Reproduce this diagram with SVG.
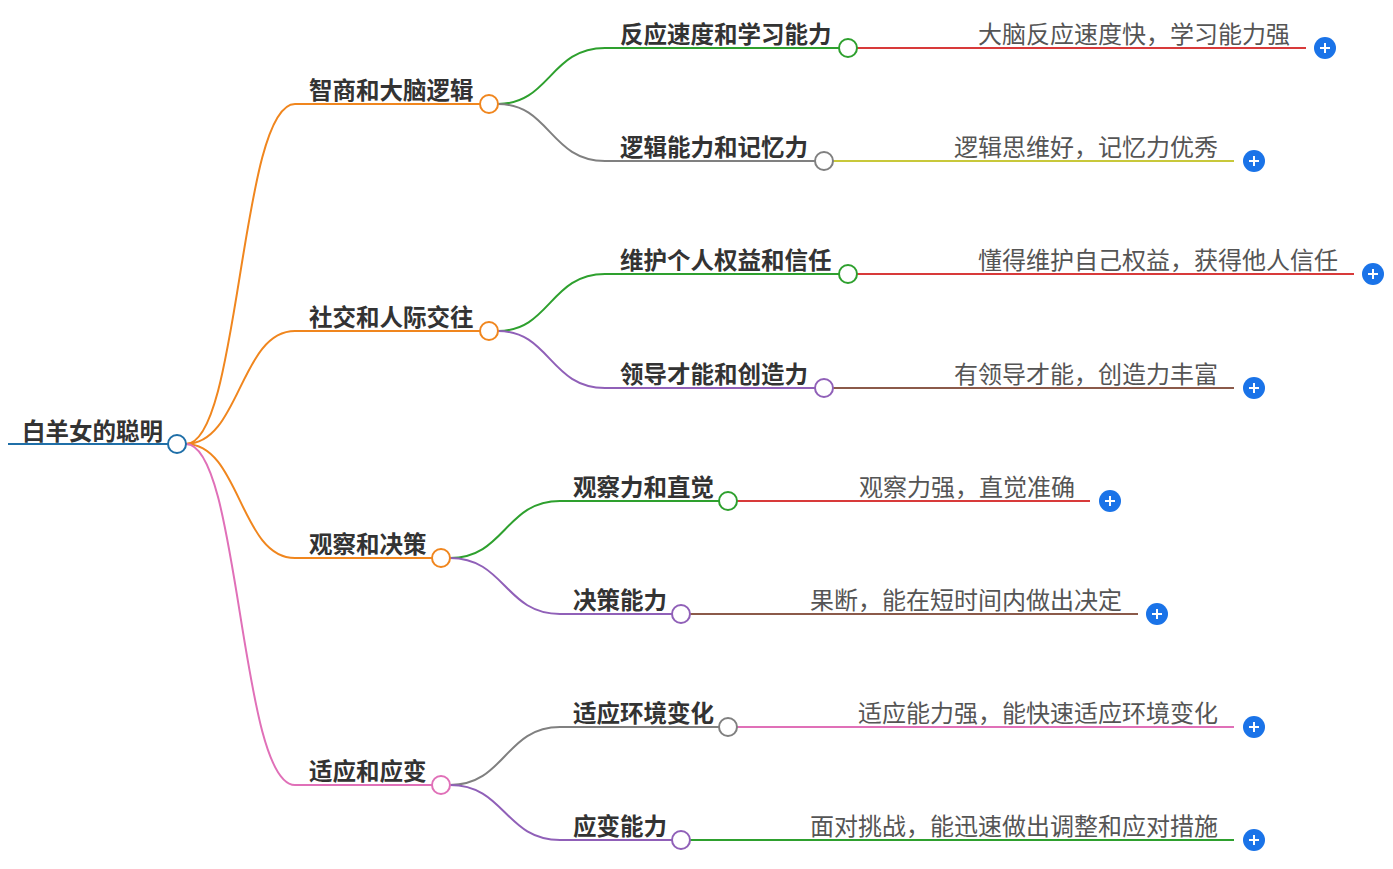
<svg xmlns="http://www.w3.org/2000/svg" width="1393" height="869" viewBox="0 0 1393 869">
<style>
.n{font-family:"Noto Sans CJK SC","Noto Sans",sans-serif;font-weight:bold;font-size:23.5px;fill:#333}
.l{font-family:"Noto Sans CJK SC","Noto Sans",sans-serif;font-size:24px;fill:#555;text-anchor:end}
path,line{fill:none;stroke-width:2}
circle{fill:#fff;stroke-width:2}
.p{fill:#1a73e8;stroke:none}
.pl{stroke:#fff;stroke-width:2}
</style>
<rect width="1393" height="869" fill="#fff"/>
<g id="connectors">
<path d="M186 444 C240 444 240 104 295 104 L480 104" stroke="#f0861e"/>
<path d="M186 444 C240 444 240 331 295 331 L480 331" stroke="#f0861e"/>
<path d="M186 444 C240 444 240 558 295 558 L432 558" stroke="#f0861e"/>
<path d="M186 444 C240 444 240 785 295 785 L432 785" stroke="#e070b8"/>
<path d="M498 104 C550 104 550 48 605 48 L839 48" stroke="#2ea02e"/>
<path d="M498 104 C550 104 550 161 605 161 L815 161" stroke="#808080"/>
<path d="M498 331 C550 331 550 274 605 274 L839 274" stroke="#2ea02e"/>
<path d="M498 331 C550 331 550 388 605 388 L815 388" stroke="#9060b8"/>
<path d="M450 558 C505 558 505 501 560 501 L719 501" stroke="#2ea02e"/>
<path d="M450 558 C505 558 505 614 560 614 L672 614" stroke="#9060b8"/>
<path d="M450 785 C505 785 505 727 560 727 L719 727" stroke="#808080"/>
<path d="M450 785 C505 785 505 840 560 840 L672 840" stroke="#9060b8"/>
<line x1="857" y1="48" x2="1306" y2="48" stroke="#d83a3a"/>
<line x1="833" y1="161" x2="1234" y2="161" stroke="#c8c83a"/>
<line x1="857" y1="274" x2="1354" y2="274" stroke="#d83a3a"/>
<line x1="833" y1="388" x2="1234" y2="388" stroke="#8b5a4a"/>
<line x1="737" y1="501" x2="1090" y2="501" stroke="#d83a3a"/>
<line x1="690" y1="614" x2="1138" y2="614" stroke="#8b5a4a"/>
<line x1="737" y1="727" x2="1234" y2="727" stroke="#e070b8"/>
<line x1="690" y1="840" x2="1234" y2="840" stroke="#2ea02e"/>
</g>
<g id="root"><line x1="8" y1="444" x2="168" y2="444" stroke="#1f6fa8" stroke-width="5"/><text class="n" x="22" y="440">白羊女的聪明</text><circle cx="177" cy="444" r="9" stroke="#1f6fa8"/></g>
<g id="n1"><text class="n" x="309" y="99">智商和大脑逻辑</text><circle cx="489" cy="104" r="9" stroke="#f0861e"/></g>
<g id="n2"><text class="n" x="309" y="326">社交和人际交往</text><circle cx="489" cy="331" r="9" stroke="#f0861e"/></g>
<g id="n3"><text class="n" x="309" y="553">观察和决策</text><circle cx="441" cy="558" r="9" stroke="#f0861e"/></g>
<g id="n4"><text class="n" x="309" y="780">适应和应变</text><circle cx="441" cy="785" r="9" stroke="#e070b8"/></g>
<g id="a1"><text class="n" x="620" y="43">反应速度和学习能力</text><circle cx="848" cy="48" r="9" stroke="#2ea02e"/></g>
<g id="a2"><text class="n" x="620" y="156">逻辑能力和记忆力</text><circle cx="824" cy="161" r="9" stroke="#808080"/></g>
<g id="a3"><text class="n" x="620" y="269">维护个人权益和信任</text><circle cx="848" cy="274" r="9" stroke="#2ea02e"/></g>
<g id="a4"><text class="n" x="620" y="383">领导才能和创造力</text><circle cx="824" cy="388" r="9" stroke="#9060b8"/></g>
<g id="a5"><text class="n" x="573" y="496">观察力和直觉</text><circle cx="728" cy="501" r="9" stroke="#2ea02e"/></g>
<g id="a6"><text class="n" x="573" y="609">决策能力</text><circle cx="681" cy="614" r="9" stroke="#9060b8"/></g>
<g id="a7"><text class="n" x="573" y="722">适应环境变化</text><circle cx="728" cy="727" r="9" stroke="#808080"/></g>
<g id="a8"><text class="n" x="573" y="835">应变能力</text><circle cx="681" cy="840" r="9" stroke="#9060b8"/></g>
<g id="leaves">
<text class="l" x="1290" y="43">大脑反应速度快，学习能力强</text>
<text class="l" x="1218" y="156">逻辑思维好，记忆力优秀</text>
<text class="l" x="1338" y="269">懂得维护自己权益，获得他人信任</text>
<text class="l" x="1218" y="383">有领导才能，创造力丰富</text>
<text class="l" x="1075" y="496">观察力强，直觉准确</text>
<text class="l" x="1122" y="609">果断，能在短时间内做出决定</text>
<text class="l" x="1218" y="722">适应能力强，能快速适应环境变化</text>
<text class="l" x="1218" y="835">面对挑战，能迅速做出调整和应对措施</text>
</g>
<defs><g id="plus"><circle class="p" r="11"/><line class="pl" x1="-5" x2="5"/><line class="pl" y1="-5" y2="5"/></g></defs>
<g id="plusses">
<use href="#plus" x="1325" y="48"/><use href="#plus" x="1254" y="161"/><use href="#plus" x="1373" y="274"/><use href="#plus" x="1254" y="388"/>
<use href="#plus" x="1110" y="501"/><use href="#plus" x="1157" y="614"/><use href="#plus" x="1254" y="727"/><use href="#plus" x="1254" y="840"/>
</g>
</svg>
